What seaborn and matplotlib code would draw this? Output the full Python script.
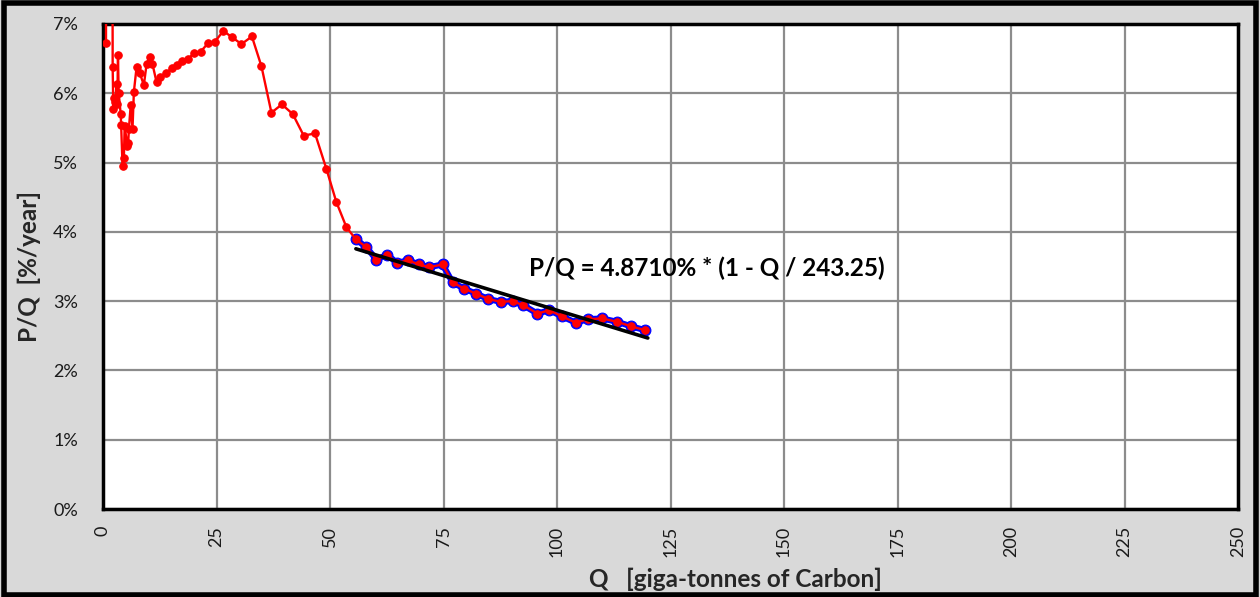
import matplotlib
matplotlib.use("Agg")
import matplotlib.pyplot as plt
from matplotlib.ticker import PercentFormatter
from matplotlib.patches import Rectangle
import seaborn as sns
import pandas as pd
import numpy as np

# ---- data ----
q_cum = [0.66, 1.4, 2.13, 2.27, 2.42, 2.7, 3.0, 3.15, 3.3, 3.45, 3.9, 4.0, 4.3, 4.6, 4.77,
         5.35, 5.55, 5.7, 6.1, 6.5, 6.8, 7.4, 8.1, 9.0, 9.6, 10.3, 10.9, 11.8, 12.5, 13.85,
         15.3, 16.3, 17.5, 18.7, 20.0, 21.5, 23.1, 24.6, 26.5, 28.4, 30.5, 32.8, 34.9, 37.1,
         39.4, 41.8, 44.2, 46.7, 49.2, 51.4, 53.6, 55.7, 58.0, 60.2, 62.6, 64.8, 67.1, 69.6,
         71.9, 74.8, 77.0, 79.6, 82.1, 84.9, 87.6, 90.2, 92.6, 95.7, 98.3, 101.1, 104.1,
         106.9, 110.0, 113.3, 116.2, 119.4]
pq_pct = [6.73, 40.0, 6.38, 5.77, 5.93, 5.88, 6.14, 5.85, 6.55, 6.01, 5.70, 5.54, 4.95, 5.07, 5.53,
          5.24, 5.28, 5.48, 5.83, 5.49, 6.02, 6.38, 6.29, 6.12, 6.42, 6.53, 6.42, 6.16, 6.23, 6.29,
          6.37, 6.41, 6.47, 6.49, 6.58, 6.60, 6.72, 6.74, 6.90, 6.81, 6.71, 6.82, 6.39, 5.72,
          5.84, 5.70, 5.39, 5.42, 4.91, 4.43, 4.07, 3.89, 3.78, 3.60, 3.67, 3.55, 3.59, 3.53,
          3.49, 3.53, 3.27, 3.18, 3.11, 3.03, 2.99, 3.00, 2.94, 2.82, 2.87, 2.78, 2.69,
          2.74, 2.75, 2.70, 2.64, 2.58]

fit_q_range = [55.7, 120.0]       # range of the linear fit
fit_a_pct = 4.8710                # intercept in %/year
fit_q0 = 243.25                   # Q at which P/Q reaches zero
x_ticks = [0, 25, 50, 75, 100, 125, 150, 175, 200, 225, 250]
y_ticks = [0, 1, 2, 3, 4, 5, 6, 7]

df = pd.DataFrame({"Q": q_cum, "PQ": pq_pct})
df_fit = df[df["Q"] >= fit_q_range[0]]
fit_q = np.array(fit_q_range)
df_line = pd.DataFrame({"Q": fit_q, "PQ": fit_a_pct * (1 - fit_q / fit_q0)})

sns.set_style("white")
plt.rcParams["font.family"] = ["Lato", "DejaVu Sans"]

W, H = 1260, 597
fig = plt.figure(figsize=(W / 100, H / 100), dpi=100, facecolor="#d9d9d9")
ax = fig.add_axes([103 / W, (H - 509) / H, (1238 - 103) / W, (509 - 24) / H])
ax.set_facecolor("white")

# figure frame
fig.patches.append(Rectangle((0.003, 0.004), 0.994, 0.991, transform=fig.transFigure,
                             fill=False, edgecolor="black", linewidth=4, zorder=10))

# blue highlighted fit-range series under the red series
sns.lineplot(data=df_fit, x="Q", y="PQ", ax=ax, color="blue", linewidth=4.4,
             marker="o", markersize=7.8, markeredgecolor="blue", markerfacecolor="blue",
             estimator=None, sort=False, zorder=3)
sns.lineplot(data=df, x="Q", y="PQ", ax=ax, color="red", linewidth=1.7,
             marker="o", markersize=5.4, markeredgecolor="red", markerfacecolor="red",
             estimator=None, sort=False, zorder=4)
sns.lineplot(data=df_line, x="Q", y="PQ", ax=ax, color="black", linewidth=2.6,
             estimator=None, sort=False, zorder=5)

ax.set_xlim(0, 250)
ax.set_ylim(0, 7)
ax.set_xticks(x_ticks)
ax.set_yticks(y_ticks)
ax.yaxis.set_major_formatter(PercentFormatter(xmax=100, decimals=0))
ax.grid(True, color="#8c8c8c", linewidth=1.6)
ax.set_axisbelow(True)
for s in ax.spines.values():
    s.set_visible(True)
    s.set_color("black")
    s.set_linewidth(2.5)
ax.tick_params(axis="both", which="major", length=6, width=1.5, color="#8c8c8c",
               labelsize=13, labelcolor="#1a1a1a", direction="out")
ax.tick_params(axis="x", labelrotation=90, pad=6)
ax.tick_params(axis="y", pad=12)
for lbl in ax.get_xticklabels():
    lbl.set_verticalalignment("top")
ax.set_xlabel("")
ax.set_ylabel("")

ax.text(93.9, 3.47, "P/Q = 4.8710% * (1 - Q / 243.25)", fontsize=17.5, fontweight="bold",
        ha="left", va="center", color="black", zorder=6)

fig.text(735 / W, (H - 579) / H, "Q   [giga-tonnes of Carbon]", fontsize=17.5,
         fontweight="bold", ha="center", va="center")
fig.text(29 / W, (H - 266) / H, "P/Q  [%/year]", fontsize=17.5, fontweight="bold",
         ha="center", va="center", rotation=90)

fig.savefig("out.png", dpi=100, facecolor=fig.get_facecolor())
